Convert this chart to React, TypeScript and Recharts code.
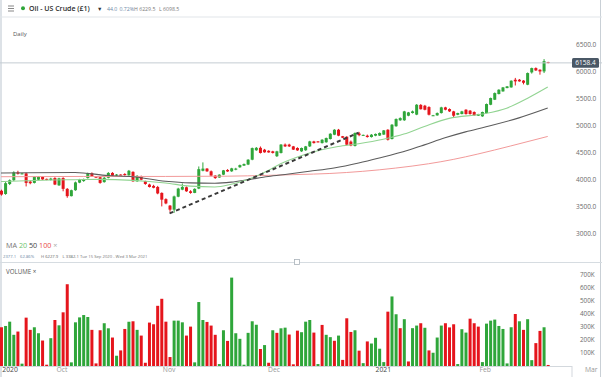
import React from 'react';
import { ComposedChart, Bar, Line, XAxis, YAxis, ReferenceLine, Cell } from 'recharts';

// daily candles, index 0 = first bar on the left (Sunday sessions included)
const OPEN = [
  3790, 3730, 3915, 3985, 4130, 4105, 4112, 3960, 3935, 3995,
  4045, 4010, 3990, 4025, 3890, 4025, 3825, 3690, 3800, 3940,
  3970, 4025, 4115, 4050, 4040, 3950, 4030, 4120, 4075, 4090,
  4100, 4075, 4140, 3965, 4055, 3970, 3905, 3880, 3860, 3750,
  3635, 3515, 3440, 3680, 3810, 3855, 3780, 3750, 3830, 4160,
  4200, 4150, 4070, 4035, 4088, 4175, 4150, 4180, 4225, 4255,
  4275, 4365, 4540, 4585, 4550, 4530, 4520, 4430, 4490, 4645,
  4645, 4612, 4582, 4520, 4540, 4612, 4704, 4704, 4673, 4688,
  4748, 4828, 4920, 4800, 4790, 4700, 4620, 4850, 4815, 4810,
  4785, 4810, 4812, 4830, 4920, 4748, 4985, 5095, 5095, 5180,
  5230, 5200, 5380, 5365, 5340, 5180, 5186, 5229, 5334, 5303,
  5260, 5198, 5211, 5291, 5273, 5248, 5180, 5168, 5229, 5383,
  5476, 5581, 5630, 5692, 5704, 5846, 5846, 5830, 5754, 5982,
  6062, 6031, 6000, 6174,
];
const HIGH = [
  3810, 3950, 4000, 4150, 4160, 4120, 4125, 3985, 4055, 4060,
  4060, 4015, 4030, 4040, 4030, 4040, 3840, 3810, 3960, 4010,
  4015, 4125, 4130, 4055, 4050, 4045, 4135, 4135, 4100, 4095,
  4115, 4175, 4150, 4080, 4070, 3975, 3920, 3900, 3880, 3760,
  3650, 3525, 3700, 3845, 3925, 3870, 3800, 3835, 4240, 4315,
  4210, 4165, 4080, 4095, 4175, 4190, 4215, 4215, 4275, 4295,
  4375, 4590, 4600, 4610, 4565, 4540, 4530, 4530, 4655, 4665,
  4660, 4620, 4595, 4590, 4620, 4715, 4715, 4710, 4745, 4775,
  4855, 4930, 4935, 4805, 4800, 4720, 4870, 4880, 4830, 4830,
  4840, 4850, 4870, 4915, 4930, 5025, 5130, 5150, 5270, 5250,
  5275, 5395, 5395, 5380, 5355, 5195, 5240, 5345, 5345, 5315,
  5270, 5235, 5270, 5300, 5285, 5260, 5215, 5255, 5405, 5515,
  5610, 5670, 5712, 5730, 5835, 5880, 5860, 5840, 5980, 6070,
  6075, 6040, 6228, 6178,
];
const LOW = [
  3700, 3715, 3895, 3970, 4090, 4095, 3870, 3910, 3925, 3985,
  3990, 3985, 3980, 3895, 3880, 3780, 3660, 3685, 3790, 3930,
  3955, 4015, 4045, 4035, 3920, 3940, 4020, 4060, 4060, 4080,
  4070, 4070, 3955, 3955, 3985, 3900, 3850, 3835, 3725, 3500,
  3540, 3400, 3382, 3670, 3800, 3770, 3735, 3745, 3820, 4150,
  4140, 4060, 4010, 4030, 4080, 4140, 4140, 4170, 4215, 4250,
  4265, 4355, 4530, 4480, 4495, 4495, 4480, 4415, 4480, 4600,
  4600, 4545, 4530, 4510, 4530, 4600, 4665, 4685, 4665, 4680,
  4740, 4820, 4800, 4765, 4630, 4615, 4610, 4800, 4810, 4775,
  4775, 4800, 4805, 4825, 4720, 4740, 4975, 5085, 5085, 5170,
  5220, 5190, 5295, 5280, 5185, 5175, 5180, 5220, 5280, 5250,
  5137, 5190, 5205, 5200, 5200, 5180, 5175, 5160, 5220, 5375,
  5470, 5575, 5625, 5688, 5700, 5740, 5810, 5760, 5745, 5960,
  6010, 5940, 5970, 6150,
];
const CLOSE = [
  3720, 3930, 3985, 4130, 4105, 4112, 3935, 3930, 4045, 4045,
  4000, 3995, 4015, 3905, 4020, 3825, 3690, 3800, 3945, 3995,
  4005, 4115, 4060, 4045, 3935, 4030, 4120, 4070, 4090, 4085,
  4080, 4160, 3965, 4065, 3995, 3915, 3860, 3845, 3740, 3625,
  3555, 3440, 3685, 3830, 3860, 3780, 3750, 3825, 4190, 4200,
  4150, 4070, 4025, 4088, 4168, 4148, 4205, 4200, 4265, 4285,
  4365, 4580, 4585, 4490, 4502, 4500, 4490, 4520, 4645, 4612,
  4612, 4552, 4538, 4582, 4612, 4704, 4673, 4690, 4735, 4766,
  4846, 4920, 4810, 4772, 4643, 4628, 4860, 4820, 4825, 4785,
  4828, 4842, 4860, 4908, 4735, 5013, 5118, 5136, 5260, 5241,
  5260, 5383, 5300, 5290, 5198, 5188, 5229, 5334, 5291, 5260,
  5180, 5229, 5260, 5211, 5211, 5186, 5211, 5248, 5396, 5507,
  5599, 5661, 5704, 5723, 5828, 5816, 5816, 5790, 5970, 6062,
  6019, 6000, 6190, 6158.4,
];

// volume in thousands, and bar colour (g / r) per bar
const VOLUME_K = [
  298, 308, 341, 240, 265, 18, 372, 278, 298, 252,
  196, 10, 214, 354, 313, 413, 629, 28, 336, 374,
  392, 377, 278, 20, 275, 329, 290, 219, 79, 120,
  285, 341, 344, 278, 234, 25, 334, 321, 463, 517,
  341, 69, 349, 349, 336, 234, 303, 28, 492, 354,
  339, 311, 240, 15, 275, 193, 680, 252, 209, 10,
  255, 344, 318, 131, 161, 25, 275, 255, 290, 295,
  242, 13, 272, 260, 341, 354, 257, 15, 316, 240,
  222, 194, 234, 47, 367, 262, 275, 118, 22, 189,
  173, 217, 133, 30, 418, 535, 398, 291, 360, 35,
  291, 311, 329, 294, 120, 102, 219, 311, 329, 297,
  321, 15, 283, 257, 364, 329, 303, 30, 326, 349,
  357, 308, 285, 20, 298, 400, 344, 278, 360, 45,
  176, 270, 298, 8,
];
const VOLUME_SIDE =
  'rgggrgrrgg' + 'rrgrgrrggg' + 'ggrrrggrgr' + 'rgrgrrrrrr' + 'rrgggrrggg' +
  'rrrggrgggg' + 'gggrgrgrgg' + 'rrrgggrgrg' + 'grgrrrgrgr' + 'ggggrggrgr' +
  'ggrgrgggrr' + 'rgggrrrggg' + 'gggggrgrgg' + 'rrgr';

// moving averages at a few bars: [bar index, value]
const MA20_POINTS = [
  [0, 3960], [6, 3975], [12, 3990], [18, 3995], [24, 4000], [32, 3982], [40, 3933],
  [46, 3875], [52, 3860], [56, 3910], [60, 3998], [65, 4165], [68, 4290], [73, 4440],
  [78, 4550], [82, 4610], [87, 4662], [93, 4745], [98, 4840], [103, 4980], [109, 5130],
  [117, 5210], [123, 5320], [128, 5500], [133, 5711],
];
const MA50_POINTS = [
  [0, 4120], [18, 4128], [26, 4072], [32, 4050], [40, 3965], [46, 3935], [52, 3930],
  [56, 3950], [60, 3995], [65, 4055], [70, 4100], [75, 4150], [81, 4211], [87, 4303],
  [92, 4396], [99, 4540], [103, 4640], [108, 4770], [113, 4880], [118, 4975], [126, 5140],
  [133, 5322],
];
const MA100_POINTS = [
  [0, 4050], [20, 4055], [40, 4055], [55, 4060], [65, 4075], [72, 4090], [80, 4110],
  [88, 4150], [96, 4210], [104, 4290], [110, 4370], [116, 4470], [124, 4620], [133, 4796],
];
const TREND_POINTS = [[41, 3370], [87, 4865]];

const LAST_PRICE = 6158.4;
const PRICE_TICKS = [3000, 3500, 4000, 4500, 5000, 5500, 6000, 6500];
const VOLUME_TICKS = [100, 200, 300, 400, 500, 600, 700];
const MONTH_TICKS = [2.2, 14.8, 40.9, 66.4, 93, 117.8, 143.6];
const MONTH_LABELS = ['2020', 'Oct', 'Nov', 'Dec', '2021', 'Feb', 'Mar'];

const GREEN = '#2fa63a';
const RED = '#e5151c';
const FONT = '"Open Sans", Roboto, sans-serif';
const X_DOMAIN = [-0.25, 146.2];

const lookup = (pts: number[][]) => new Map(pts.map(([i, v]) => [i, v]));
const ma20 = lookup(MA20_POINTS);
const ma50 = lookup(MA50_POINTS);
const ma100 = lookup(MA100_POINTS);
const trend = lookup(TREND_POINTS);

const rows = CLOSE.map((c, i) => ({
  i,
  o: OPEN[i],
  h: HIGH[i],
  l: LOW[i],
  c,
  range: [LOW[i], HIGH[i]],
  vol: VOLUME_K[i],
  up: VOLUME_SIDE[i] === 'g',
  ma20: ma20.get(i) ?? null,
  ma50: ma50.get(i) ?? null,
  ma100: ma100.get(i) ?? null,
  trend: trend.get(i) ?? null,
}));

const Candle = (props: any) => {
  const { x, y, width, height, payload } = props;
  if (x == null || !payload) return null;
  const top = Math.min(y, y + height);
  const full = Math.abs(height);
  const { o, h, l, c } = payload;
  const span = h - l || 1;
  const py = (v: number) => top + ((h - v) / span) * full;
  const color = c >= o ? GREEN : RED;
  const b1 = py(Math.max(o, c));
  const b2 = py(Math.min(o, c));
  const cx = x + width / 2;
  return (
    <g>
      <line x1={cx} x2={cx} y1={top} y2={top + full} stroke={color} strokeWidth={1} />
      <rect x={x} y={b1} width={width} height={Math.max(1, b2 - b1)} fill={color} />
    </g>
  );
};

const PriceTick = (props: any) => (
  <text x={576} y={props.y} dy={2.3} fontSize={6.5} fill="#6b6b6b" fontFamily={FONT}>
    {Number(props.payload.value).toFixed(1)}
  </text>
);

const VolumeTick = (props: any) => (
  <text x={580} y={props.y} dy={2.3} fontSize={6.3} fill="#6b6b6b" fontFamily={FONT}>
    {props.payload.value}K
  </text>
);

const MonthTick = (props: any) => {
  const label = MONTH_LABELS[props.index] ?? '';
  const year = /^\d{4}$/.test(label);
  return (
    <text x={props.x} y={110} textAnchor="middle" fontSize={6.8} fontFamily={FONT}
      fill={year ? '#444' : '#999'}>
      {label}
    </text>
  );
};

const PriceTag = (props: any) => {
  const vb = props.viewBox || {};
  const y = vb.y ?? 0;
  return (
    <g>
      <rect x={572} y={y - 4.8} width={27} height={9.6} rx={1.5} fill="#4a5866" />
      <text x={585.5} y={y + 2.3} textAnchor="middle" fontSize={6.5} fill="#fff" fontFamily={FONT}>
        {LAST_PRICE.toFixed(1)}
      </text>
    </g>
  );
};

export default function App() {
  return (
    <div style={{ position: 'relative', width: 602, height: 377, background: '#fff', overflow: 'hidden', fontFamily: FONT }}>
      <style>{'body{margin:0}'}</style>

      <svg width={602} height={377} style={{ position: 'absolute', left: 0, top: 0 }}>
        <rect x={0} y={0} width={2} height={377} fill="#dde2e7" />
        <rect x={600} y={0} width={1} height={377} fill="#c9d0d6" />
        <rect x={0} y={16.5} width={602} height={1} fill="#e2e6ea" />
        <rect x={8} y={5.5} width={6} height={1} fill="#888" />
        <rect x={8} y={8} width={6} height={1} fill="#888" />
        <rect x={8} y={10.5} width={6} height={1} fill="#888" />
        <circle cx={23} cy={8.3} r={2} fill={GREEN} />
        <text x={29} y={11} fontSize={7} fontWeight={600} fill="#2b2b2b" fontFamily={FONT}>Oil - US Crude (£1)</text>
        <text x={97} y={10.5} fontSize={5.5} fill="#333" fontFamily={FONT}>▼</text>
        <text y={10.5} fontSize={5.2} fontFamily={FONT}>
          <tspan x={107} fill="#6d88a6">44.0</tspan>
          <tspan x={119.5} fill="#6d88a6">0.72%</tspan>
          <tspan x={134} fill="#7a7a7a">H 6229.5</tspan>
          <tspan x={159} fill="#7a7a7a">L 6098.5</tspan>
        </text>
        <text x={13} y={35.5} fontSize={6} fill="#555" fontFamily={FONT}>Daily</text>

        <text x={6} y={248} fontSize={7.2} fontFamily={FONT}>
          <tspan fill="#777">MA </tspan>
          <tspan fill="#6cc46c">20 </tspan>
          <tspan fill="#444">50 </tspan>
          <tspan fill="#e84a4a">100 </tspan>
          <tspan fill="#aaa">×</tspan>
        </text>
        <text y={258} fontSize={4.2} fontFamily={FONT} fill="#6d88a6">
          <tspan x={3}>2377.1</tspan>
          <tspan x={20}>62.86%</tspan>
          <tspan x={41} fill="#666">H 6227.9</tspan>
          <tspan x={62.5} fill="#666">L 3382.1</tspan>
          <tspan x={80} fill="#777">Tue 15 Sep 2020 - Wed 3 Mar 2021</tspan>
        </text>
        <rect x={0} y={262} width={602} height={1} fill="#d6dce1" />
        <rect x={294.5} y={259.5} width={5} height={5} fill="#fff" stroke="#aab2ba" strokeWidth={0.8} />
        <text x={6} y={273.5} fontSize={6.2} fill="#555" fontFamily={FONT}>VOLUME ×</text>
        <rect x={0} y={366} width={572} height={1} fill="#d3d8dd" />
        <rect x={571.5} y={366} width={1} height={11} fill="#d3d8dd" />
      </svg>

      <div style={{ position: 'absolute', left: 0, top: 18 }}>
        <ComposedChart width={602} height={244} data={rows} margin={{ top: 7, right: 0, bottom: 7, left: 0 }}>
          <XAxis dataKey="i" type="number" domain={X_DOMAIN} allowDataOverflow hide />
          <YAxis orientation="right" mirror domain={[2600, 6860]} allowDataOverflow ticks={PRICE_TICKS}
            interval={0} tick={PriceTick} axisLine={false} tickLine={false} />
          <ReferenceLine y={LAST_PRICE} stroke="#c4ccd3" strokeWidth={1} label={PriceTag} />
          <Line dataKey="ma100" type="monotone" stroke="#f29a9a" strokeWidth={1} dot={false} activeDot={false}
            connectNulls isAnimationActive={false} />
          <Line dataKey="ma50" type="monotone" stroke="#5c5c5c" strokeWidth={1.1} dot={false} activeDot={false}
            connectNulls isAnimationActive={false} />
          <Line dataKey="ma20" type="monotone" stroke="#92d492" strokeWidth={1.1} dot={false} activeDot={false}
            connectNulls isAnimationActive={false} />
          <Bar dataKey="range" barSize={3} shape={Candle} isAnimationActive={false} />
          <Line dataKey="trend" type="linear" stroke="#3a3a3a" strokeWidth={2} strokeDasharray="4 3" dot={false}
            activeDot={false} connectNulls isAnimationActive={false} />
        </ComposedChart>
      </div>

      <div style={{ position: 'absolute', left: 0, top: 262 }}>
        <ComposedChart width={602} height={115} data={rows} margin={{ top: 13, right: 0, bottom: 0, left: 0 }}>
          <XAxis dataKey="i" type="number" domain={X_DOMAIN} allowDataOverflow ticks={MONTH_TICKS} interval={0}
            tick={MonthTick} axisLine={false} tickLine={false} height={11} />
          <YAxis orientation="right" mirror domain={[0, 700]} allowDataOverflow ticks={VOLUME_TICKS}
            interval={0} tick={VolumeTick} axisLine={false} tickLine={false} />
          <Bar dataKey="vol" barSize={3} isAnimationActive={false}>
            {rows.map((r) => (
              <Cell key={r.i} fill={r.up ? GREEN : RED} />
            ))}
          </Bar>
        </ComposedChart>
      </div>
    </div>
  );
}
